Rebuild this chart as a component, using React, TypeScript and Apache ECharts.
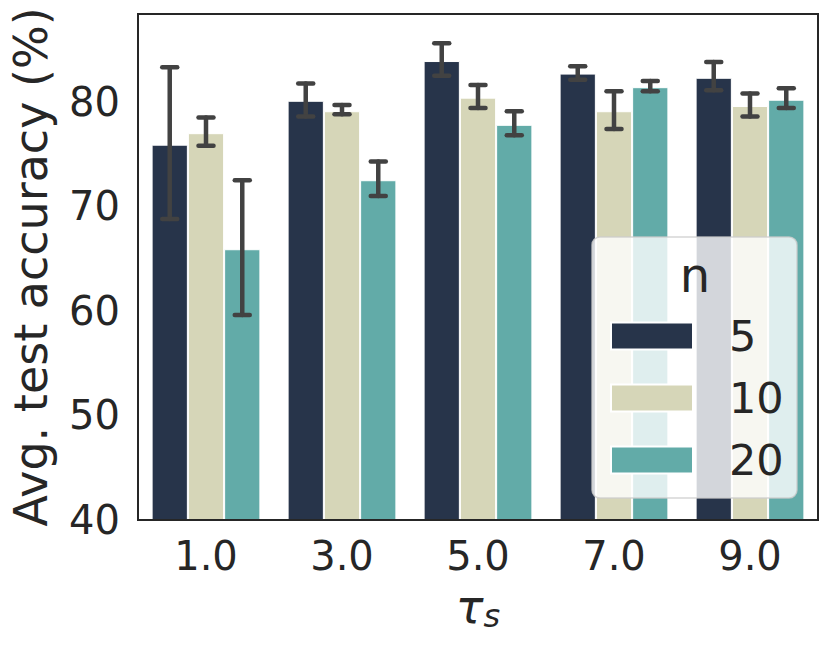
import React, { useEffect, useRef } from "react";
import * as echarts from "echarts";

const categories = ["1.0", "3.0", "5.0", "7.0", "9.0"];
const seriesNames = ["5", "10", "20"];
const means5 = [75.9, 80.1, 83.9, 82.7, 82.3];
const means10 = [77.0, 79.1, 80.4, 79.1, 79.6];
const means20 = [65.9, 72.5, 77.8, 81.4, 80.2];
const low5 = [68.8, 78.6, 82.5, 82.1, 81.1];
const high5 = [83.3, 81.75, 85.6, 83.4, 83.8];
const low10 = [75.8, 78.8, 79.4, 77.4, 78.6];
const high10 = [78.5, 79.7, 81.6, 81.0, 80.8];
const low20 = [59.6, 71.0, 76.8, 81.0, 79.4];
const high20 = [72.5, 74.3, 79.1, 82.0, 81.3];
const yTicks = [40, 50, 60, 70, 80];

const colors = ["#27344a", "#d6d6b8", "#62aba8"];
const textColor = "#262626";
const font = "DejaVu Sans";

export default function App() {
  const ref = useRef<HTMLDivElement>(null);
  useEffect(() => {
    if (!ref.current) return;
    const chart = echarts.init(ref.current, undefined, { renderer: "svg" });
    const means = [means5, means10, means20];
    const lows = [low5, low10, low20];
    const highs = [high5, high10, high20];

    const barSeries = means.map((m, i) => ({
      type: "bar",
      name: seriesNames[i],
      data: m,
      barGap: "0%",
      barCategoryGap: "20%",
      itemStyle: { color: colors[i], borderColor: "#ffffff", borderWidth: 1 },
      z: 2,
    }));

    const errSeries = means.map((_, i) => ({
      type: "custom",
      name: "err" + seriesNames[i],
      data: categories.map((_c, k) => [k, lows[i][k], highs[i][k]]),
      z: 5,
      silent: true,
      renderItem: (params: any, api: any) => {
        const k = api.value(0);
        const lo = api.coord([k, api.value(1)]);
        const hi = api.coord([k, api.value(2)]);
        const band = api.size([1, 0])[0];
        const bw = (band * 0.8) / 3;
        const x = lo[0] + (i - 1) * bw;
        const half = 7.5;
        const style = { stroke: "#424242", lineWidth: 4.5, lineCap: "round" };
        return {
          type: "group",
          children: [
            { type: "line", shape: { x1: x, y1: lo[1], x2: x, y2: hi[1] }, style },
            { type: "line", shape: { x1: x - half, y1: lo[1], x2: x + half, y2: lo[1] }, style },
            { type: "line", shape: { x1: x - half, y1: hi[1], x2: x + half, y2: hi[1] }, style },
          ],
        };
      },
    }));

    const option: any = {
      animation: false,
      textStyle: { fontFamily: font },
      grid: {
        left: 137,
        right: 13,
        top: 14,
        bottom: 125,
        show: true,
        borderColor: textColor,
        borderWidth: 2,
        backgroundColor: "transparent",
      },
      xAxis: {
        type: "category",
        data: categories,
        z: 10,
        axisLine: { show: true, lineStyle: { color: textColor, width: 2 } },
        axisTick: { show: false },
        axisLabel: { color: textColor, fontSize: 40, fontFamily: font, margin: 16 },
        name: "{t|τ}{s|s}",
        nameLocation: "middle",
        nameGap: 62,
        nameTextStyle: {
          rich: {
            t: { fontSize: 46, fontStyle: "italic", fontFamily: font, color: textColor },
            s: {
              fontSize: 32,
              fontStyle: "italic",
              fontFamily: font,
              color: textColor,
              padding: [18, 0, 0, 0],
            },
          },
        },
      },
      yAxis: {
        type: "value",
        min: 40,
        max: 88.4,
        interval: 10,
        z: 10,
        splitLine: { show: false },
        axisLine: { show: true, lineStyle: { color: textColor, width: 2 } },
        axisTick: { show: false },
        axisLabel: {
          color: textColor,
          fontSize: 40,
          fontFamily: font,
          margin: 18,
          showMaxLabel: false,
          formatter: (v: number) => (yTicks.indexOf(v) >= 0 ? String(v) : ""),
        },
        name: "Avg. test accuracy (%)",
        nameLocation: "middle",
        nameGap: 84,
        nameTextStyle: { fontSize: 46, color: textColor, fontFamily: font },
      },
      legend: {
        data: seriesNames,
        orient: "vertical",
        left: 610,
        top: 314,
        itemWidth: 82,
        itemHeight: 27,
        itemGap: 18,
        padding: 0,
        z: 60,
        icon: "rect",
        selectedMode: false,
        textStyle: {
          fontSize: 43,
          lineHeight: 44,
          color: textColor,
          fontFamily: font,
          padding: [0, 0, 0, 31],
        },
      },
      graphic: [
        {
          type: "rect",
          z: 50,
          shape: { x: 592, y: 237, width: 205, height: 261, r: 8 },
          style: { fill: "rgba(255,255,255,0.8)", stroke: "rgba(204,204,204,0.8)", lineWidth: 1.5 },
        },
        {
          type: "text",
          z: 55,
          x: 695,
          y: 275,
          style: {
            text: "n",
            fontSize: 48,
            fontFamily: font,
            fill: textColor,
            align: "center",
            verticalAlign: "middle",
          },
        },
      ],
      series: [...barSeries, ...errSeries],
    };
    chart.setOption(option);
    return () => chart.dispose();
  }, []);
  return (
    <div
      ref={ref}
      style={{ position: "fixed", left: 0, top: 0, width: 831, height: 645, background: "#fff" }}
    />
  );
}
